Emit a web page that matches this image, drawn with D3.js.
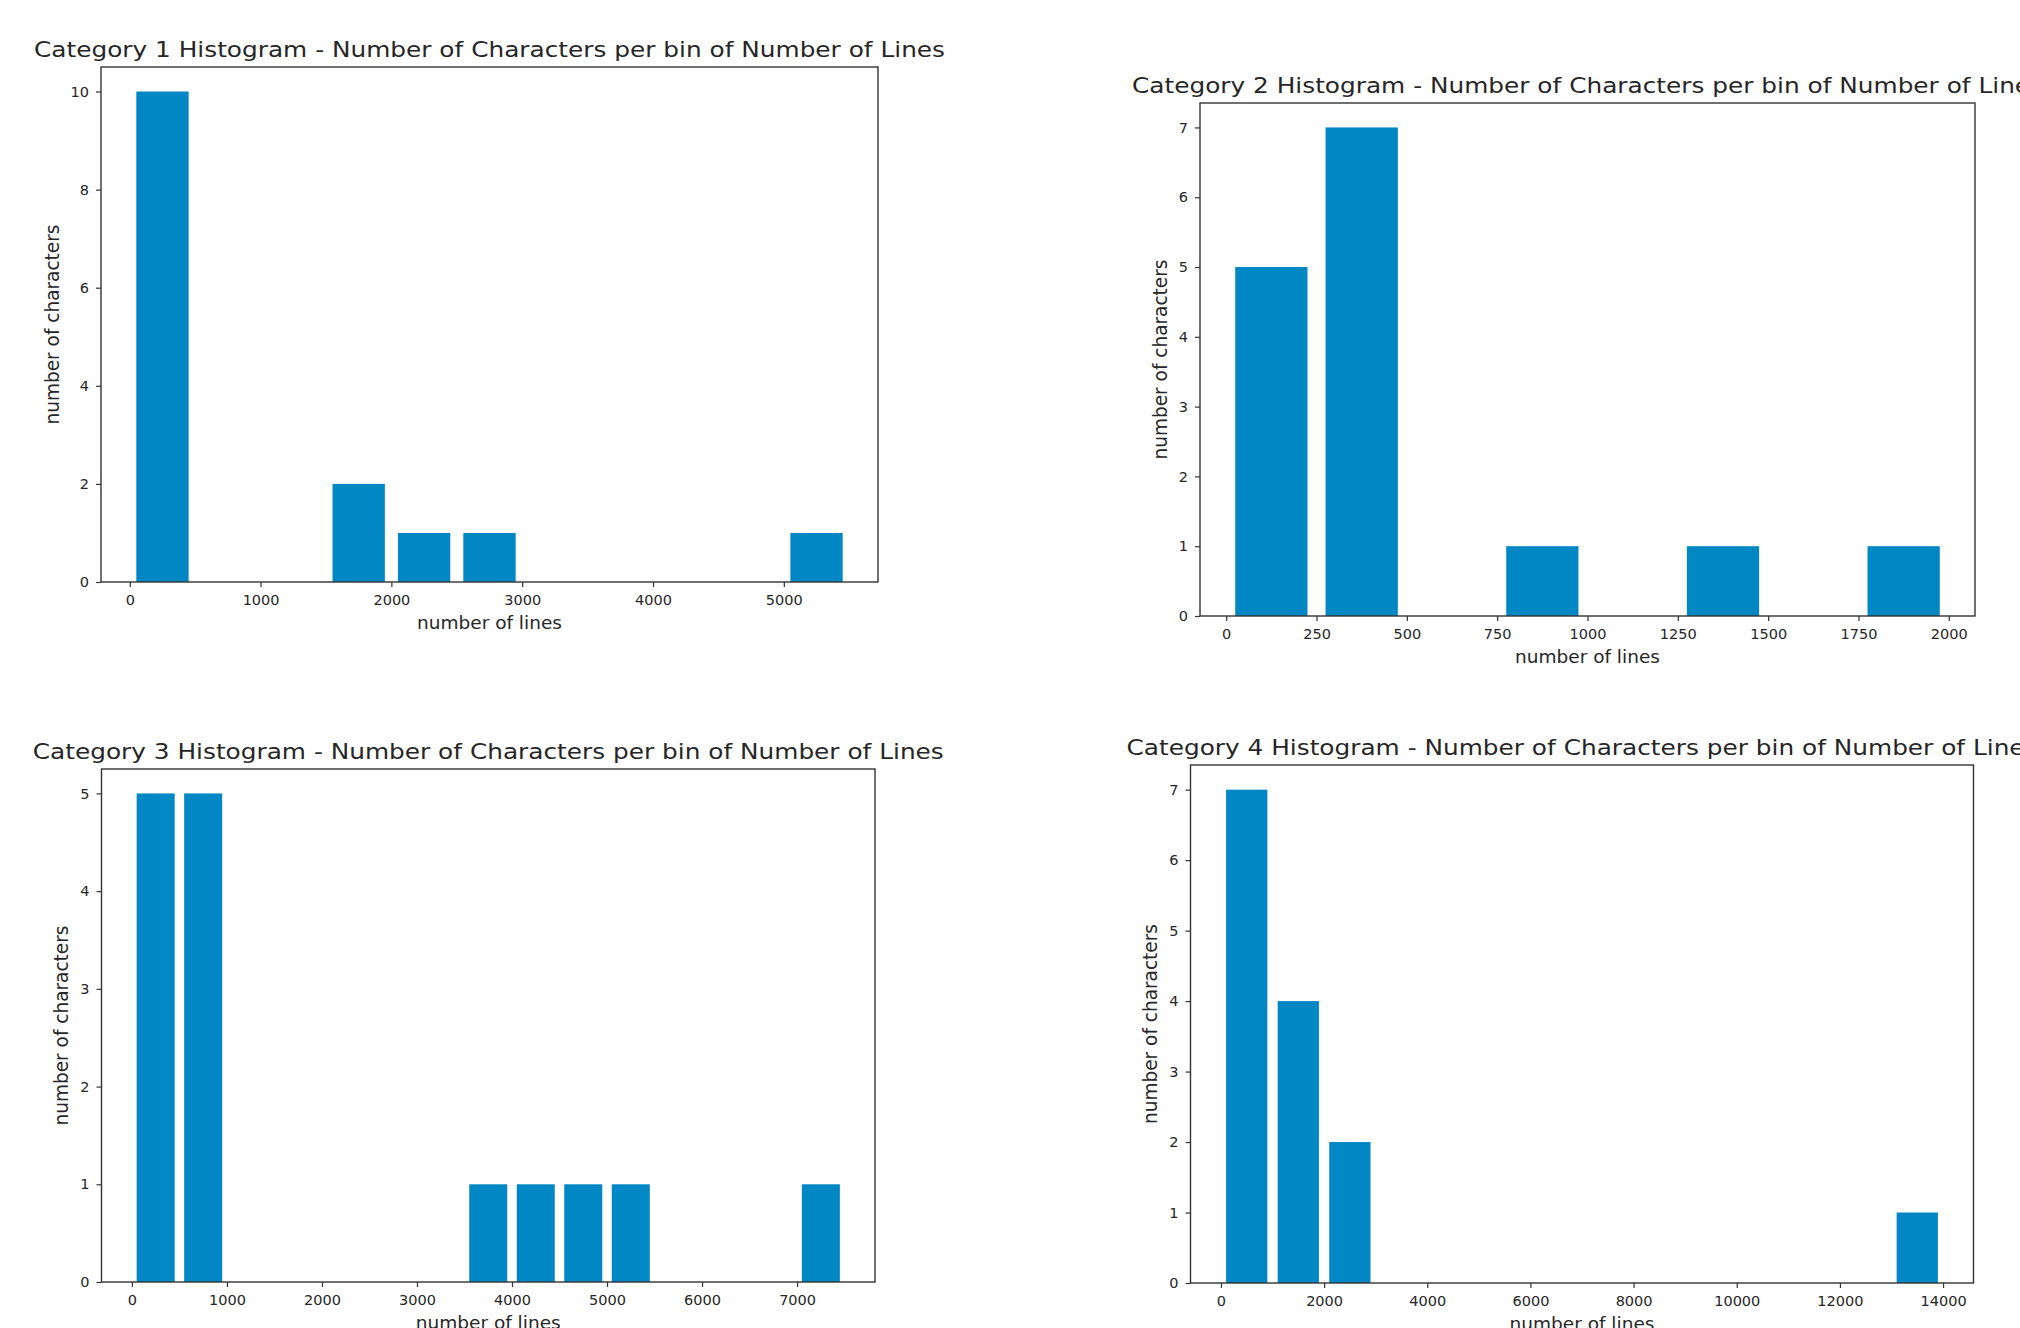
<!DOCTYPE html>
<html>
<head>
	<meta charset="utf-8">
	<title>Category Histograms</title>
	<script src="https://d3js.org/d3.v7.min.js"></script>

	<style type="text/css">
		body {
			margin: 0;
			background: #fff;
		}

		svg {
			display: block;
		}

		text {
			font-family: "DejaVu Sans", sans-serif;
			fill: #262626;
		}

		.tick text {
			font-size: 14.5px;
		}

		.tick line {
			stroke: #333;
			stroke-width: 1.2;
		}

		.frame {
			fill: none;
			stroke: #333;
			stroke-width: 1.4;
		}

		.bar {
			fill: #0287c5;
		}

		.title {
			font-size: 21px;
		}

		.axis-label {
			font-size: 18.5px;
		}

		.y-label {
			font-size: 19.5px;
		}
	</style>
</head>
<body>

<div id="chart"></div>

<script>
	// ---- data ----
	var titles = [
		"Category 1 Histogram - Number of Characters per bin of Number of Lines",
		"Category 2 Histogram - Number of Characters per bin of Number of Lines",
		"Category 3 Histogram - Number of Characters per bin of Number of Lines",
		"Category 4 Histogram - Number of Characters per bin of Number of Lines"
	];
	var xLabel = "number of lines";
	var yLabel = "number of characters";

	// left edge of each non-empty bin, and its count
	var cat1Bins = [0, 1500, 2000, 2500, 5000];
	var cat1Counts = [10, 2, 1, 1, 1];
	var cat1BinWidth = 500;
	var cat1XTicks = [0, 1000, 2000, 3000, 4000, 5000];
	var cat1YTicks = [0, 2, 4, 6, 8, 10];

	var cat2Bins = [0, 250, 750, 1250, 1750];
	var cat2Counts = [5, 7, 1, 1, 1];
	var cat2BinWidth = 250;
	var cat2XTicks = [0, 250, 500, 750, 1000, 1250, 1500, 1750, 2000];
	var cat2YTicks = [0, 1, 2, 3, 4, 5, 6, 7];

	var cat3Bins = [0, 500, 3500, 4000, 4500, 5000, 7000];
	var cat3Counts = [5, 5, 1, 1, 1, 1, 1];
	var cat3BinWidth = 500;
	var cat3XTicks = [0, 1000, 2000, 3000, 4000, 5000, 6000, 7000];
	var cat3YTicks = [0, 1, 2, 3, 4, 5];

	var cat4Bins = [0, 1000, 2000, 13000];
	var cat4Counts = [7, 4, 2, 1];
	var cat4BinWidth = 1000;
	var cat4XTicks = [0, 2000, 4000, 6000, 8000, 10000, 12000, 14000];
	var cat4YTicks = [0, 1, 2, 3, 4, 5, 6, 7];

	// ---- layout of the four axes boxes ----
	var panels = [
		{bins: cat1Bins, counts: cat1Counts, bw: cat1BinWidth, xt: cat1XTicks, yt: cat1YTicks,
			left: 101, top: 67, right: 878, bottom: 582},
		{bins: cat2Bins, counts: cat2Counts, bw: cat2BinWidth, xt: cat2XTicks, yt: cat2YTicks,
			left: 1200, top: 103, right: 1975, bottom: 616},
		{bins: cat3Bins, counts: cat3Counts, bw: cat3BinWidth, xt: cat3XTicks, yt: cat3YTicks,
			left: 101.5, top: 769, right: 875, bottom: 1282},
		{bins: cat4Bins, counts: cat4Counts, bw: cat4BinWidth, xt: cat4XTicks, yt: cat4YTicks,
			left: 1190.5, top: 765, right: 1973.5, bottom: 1283}
	];

	var rwidth = 0.8;
	var titleWidth = 911;

	var svg = d3.select("#chart").append("svg")
		.attr("width", 2020)
		.attr("height", 1328);

	panels.forEach(function(p, i) {
		var rows = p.bins.map(function(b, k) { return {start: b, count: p.counts[k]}; });

		// bars sit in the middle 80% of each bin, axes get a 5% margin like matplotlib
		var pad = p.bw * (1 - rwidth) / 2;
		var lo = d3.min(p.bins) + pad;
		var hi = d3.max(p.bins) + p.bw - pad;
		var m = (hi - lo) * 0.05;

		var x = d3.scaleLinear()
			.domain([lo - m, hi + m])
			.range([p.left, p.right]);

		var y = d3.scaleLinear()
			.domain([0, d3.max(p.counts) * 1.05])
			.range([p.bottom, p.top]);

		var g = svg.append("g").attr("class", "panel panel" + (i + 1));

		g.selectAll(".bar")
			.data(rows)
			.enter()
			.append("rect")
			.attr("class", "bar")
			.attr("x", function(d) { return x(d.start + pad); })
			.attr("width", function(d) { return x(d.start + p.bw - pad) - x(d.start + pad); })
			.attr("y", function(d) { return y(d.count); })
			.attr("height", function(d) { return y(0) - y(d.count); });

		var xAxis = g.append("g")
			.attr("transform", "translate(0," + p.bottom + ")")
			.call(d3.axisBottom(x).tickValues(p.xt).tickSize(5).tickPadding(8).tickFormat(d3.format("d")));

		var yAxis = g.append("g")
			.attr("transform", "translate(" + p.left + ",0)")
			.call(d3.axisLeft(y).tickValues(p.yt).tickSize(5).tickPadding(7).tickFormat(d3.format("d")));

		xAxis.select(".domain").remove();
		yAxis.select(".domain").remove();

		g.append("rect")
			.attr("class", "frame")
			.attr("x", p.left)
			.attr("y", p.top)
			.attr("width", p.right - p.left)
			.attr("height", p.bottom - p.top);

		var cx = (p.left + p.right) / 2;

		g.append("text")
			.attr("class", "title")
			.attr("x", cx)
			.attr("y", p.top - 10)
			.attr("text-anchor", "middle")
			.attr("textLength", titleWidth)
			.attr("lengthAdjust", "spacingAndGlyphs")
			.text(titles[i]);

		g.append("text")
			.attr("class", "axis-label")
			.attr("x", cx)
			.attr("y", p.bottom + 47)
			.attr("text-anchor", "middle")
			.text(xLabel);

		// y label goes just left of the widest tick label
		var bb = yAxis.node().getBBox();
		var lx = p.left + bb.x - 12;
		var ly = (p.top + p.bottom) / 2;
		g.append("text")
			.attr("class", "y-label")
			.attr("transform", "translate(" + lx + "," + ly + ") rotate(-90)")
			.attr("text-anchor", "middle")
			.attr("textLength", 200)
			.attr("lengthAdjust", "spacingAndGlyphs")
			.text(yLabel);
	});
</script>

</body>
</html>
